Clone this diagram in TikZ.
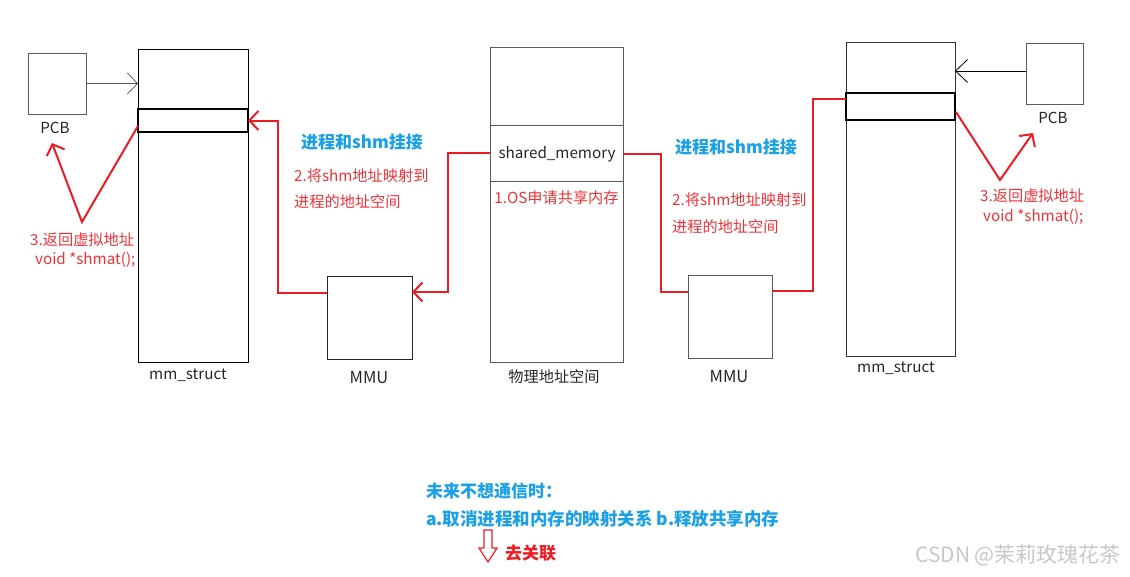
\documentclass[tikz,border=0pt]{standalone}
\usepackage{fontspec}
\setmainfont{Noto Sans CJK SC}
\usetikzlibrary{arrows.meta,calc}
\definecolor{rl}{RGB}{237,28,36}
\definecolor{rt}{RGB}{240,50,55}
\definecolor{bl}{RGB}{26,160,230}
\definecolor{bx}{RGB}{90,90,90}
\tikzset{
  box/.style={draw=bx,line width=0.9pt,inner sep=0pt,outer sep=0pt,anchor=north west},
  hlbox/.style={draw=black,line width=2.4pt,inner sep=0pt,outer sep=0pt,anchor=north west},
  lbl/.style={font=\fontsize{15.2}{17}\selectfont,text=black!85,inner sep=0pt},
  redtxt/.style={font=\fontsize{15.2}{17}\selectfont,text=rt,inner sep=0pt,anchor=west},
  bluetxt/.style={font=\fontsize{17}{19}\selectfont\bfseries,text=bl,inner sep=0pt},
  redline/.style={draw=rl,line width=2pt},
  redarr/.style={redline,-{Straight Barb[length=9pt,width=19pt,line width=2pt]}},
  grayarr/.style={draw=bx,line width=0.8pt,-{Straight Barb[length=10pt,width=21pt]}},
}
\begin{document}
\begin{tikzpicture}[x=1pt,y=-1pt]
\useasboundingbox (0,0) rectangle (1130,576);
% left side
\node[box,minimum width=58pt,minimum height=61pt] (pcbL) at (28,53) {};
\node[lbl] (pcbLl) at (55,128) {PCB};
\node[box,draw=black,minimum width=110pt,minimum height=313pt] (mmL) at (138,49) {};
\node[hlbox,minimum width=110pt,minimum height=23pt] (hlL) at (138,109) {};
\node[lbl] (mmLl) at (188,375) {mm\_struct};
\node[box,draw=black!85,minimum width=85pt,minimum height=83pt] (mmuL) at (327,276) {};
\node[lbl,font=\fontsize{16.5}{18}\selectfont] (mmuLl) at (369,378) {MMU};
% physical
\node[box,minimum width=133pt,minimum height=315pt] (phys) at (490,47) {};
\node[box,minimum width=133pt,minimum height=56pt] (shm) at (490,125) {};
\node[lbl] (shml) at (557,154) {shared\_memory};
\node[redtxt,anchor=center] (os) at (556.5,198) {1.OS申请共享内存};
\node[lbl] (physl) at (554,377) {物理地址空间};
% right side
\node[box,minimum width=84pt,minimum height=83pt] (mmuR) at (688,275) {};
\node[lbl,font=\fontsize{16.5}{18}\selectfont] (mmuRl) at (729,377) {MMU};
\node[box,draw=black!80,minimum width=109pt,minimum height=314pt] (mmR) at (846,42) {};
\node[hlbox,minimum width=109pt,minimum height=27pt] (hlR) at (846,93) {};
\node[lbl] (mmRl) at (896,368) {mm\_struct};
\node[box,minimum width=57pt,minimum height=61pt] (pcbR) at (1026,43) {};
\node[lbl] (pcbRl) at (1053,118) {PCB};
% texts
\node[bluetxt] (tL) at (362,142) {进程和shm挂接};
\node[redtxt] (mL1) at (294,176) {2.将shm地址映射到};
\node[redtxt] (mL2) at (294,202) {进程的地址空间};
\node[bluetxt] (tR) at (736,147) {进程和shm挂接};
\node[redtxt] (mR1) at (672,200) {2.将shm地址映射到};
\node[redtxt] (mR2) at (672,227) {进程的地址空间};
\node[redtxt] (rL1) at (30,240) {3.返回虚拟地址};
\node[redtxt] (rL2) at (35,260) {void *shmat();};
\node[redtxt] (rR1) at (980,196) {3.返回虚拟地址};
\node[redtxt] (rR2) at (983,217) {void *shmat();};
\node[bluetxt,anchor=west,font=\fontsize{17}{19}\selectfont\bfseries] (b1) at (426,491) {未来不想通信时：};
\node[bluetxt,anchor=west,font=\fontsize{17.5}{19}\selectfont\bfseries] (b2) at (426,519) {a.取消进程和内存的映射关系 b.释放共享内存};
\node[redtxt,text=rl,font=\fontsize{17}{19}\selectfont\bfseries] (qgl) at (505,553) {去关联};
\node[inner sep=0pt,text=black!22,font=\fontsize{21}{23}\selectfont] (wm) at (1018,555) {CSDN @茉莉玫瑰花茶};
% coordinates
\coordinate (cL1) at (278,293);
\coordinate (cL2) at (448,153);
\coordinate (cR1) at (661,154);
\coordinate (cR2) at (813,291);
\coordinate (cR3) at (846,99);
\coordinate (vL) at (82,222);
\coordinate (tipL) at (52,143);
\coordinate (vR) at (1000,180);
\coordinate (tipR) at (1033,133);
\coordinate (dTop) at (488,530);
\coordinate (dBot) at (488,562);
% connectors
\draw[grayarr] (pcbL.east) -- (mmL.west |- pcbL.east);
\draw[draw=black,line width=0.8pt,-{Straight Barb[length=12pt,width=23pt]}] (pcbR.west |- 0,71) -- (mmR.east |- 0,71);
\draw[redarr] (mmuL.west |- cL1) -- (cL1) |- (hlL.east);
\draw[redarr] (shm.west |- cL2) -- (cL2) |- (mmuL.east |- 0,292);
\draw[redline] (shm.east |- cR1) -- (cR1) |- (mmuR.west |- 0,292);
\draw[redline] (mmuR.east |- cR2) -- (cR2) |- (cR3);
\draw[redarr] ($(hlL.south west)+(0,-6)$) -- (vL) -- (tipL);
\draw[redarr] ($(hlR.south east)+(1,-8)$) -- (vR) -- (tipR);
% hollow down arrow
\draw[draw=rl,line width=1.2pt,line join=miter] ($(dTop)+(-4,0)$) -- ($(dTop)+(4,0)$) -- ($(dTop)+(4,18)$) -- ($(dTop)+(9,18)$) -- (dBot) -- ($(dTop)+(-9,18)$) -- ($(dTop)+(-4,18)$) -- cycle;
\end{tikzpicture}
\end{document}
